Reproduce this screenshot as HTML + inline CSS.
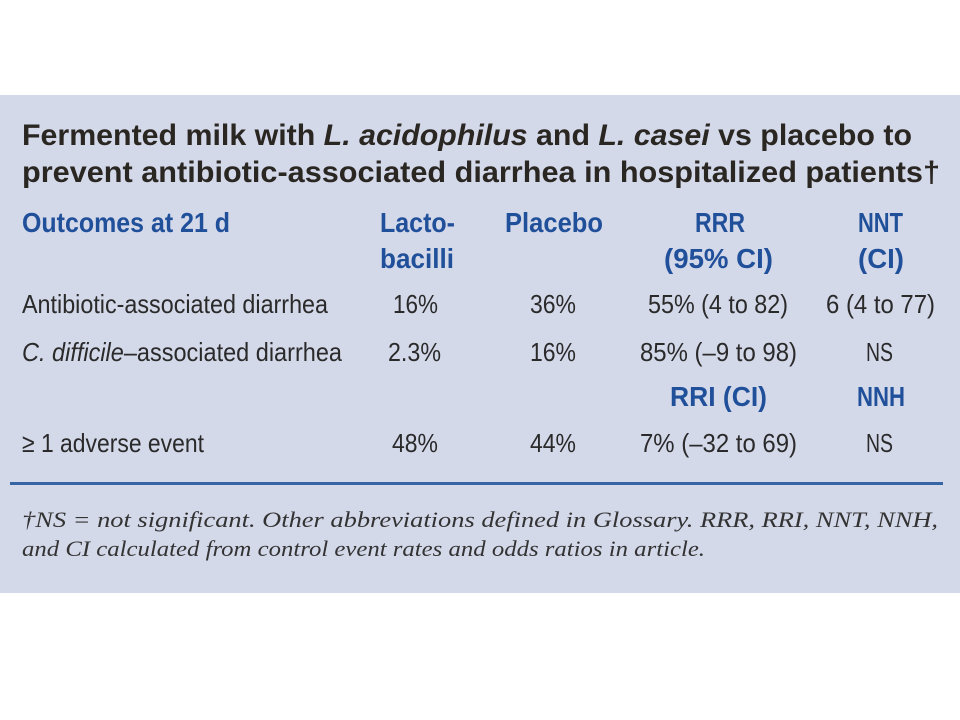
<!DOCTYPE html>
<html><head><meta charset="utf-8"><style>
html,body{margin:0;padding:0;background:#fff;width:960px;height:720px;overflow:hidden}
svg{display:block}
.t{font-family:"Liberation Sans",sans-serif;font-weight:bold;font-size:30px;fill:#2a2622}
.h{font-family:"Liberation Sans",sans-serif;font-weight:bold;font-size:28px;fill:#21509a}
.b{font-family:"Liberation Sans",sans-serif;font-size:26px;fill:#2a2a2a}
.f{font-family:"Liberation Serif",serif;font-style:italic;font-size:22px;fill:#333}
</style></head><body>
<svg width="960" height="720" xmlns="http://www.w3.org/2000/svg">
<rect x="0" y="95" width="960" height="498" fill="#d4d9ea"/>
<text class="t" x="22" y="145" textLength="890" lengthAdjust="spacingAndGlyphs">Fermented milk with <tspan font-style="italic">L. acidophilus</tspan> and <tspan font-style="italic">L. casei</tspan> vs placebo to</text>
<text class="t" x="22" y="182" textLength="918" lengthAdjust="spacingAndGlyphs">prevent antibiotic-associated diarrhea in hospitalized patients†</text>

<text class="h" x="22" y="232" textLength="208" lengthAdjust="spacingAndGlyphs">Outcomes at 21 d</text>
<text class="h" x="380" y="232" textLength="75" lengthAdjust="spacingAndGlyphs">Lacto-</text>
<text class="h" x="505" y="232" textLength="98" lengthAdjust="spacingAndGlyphs">Placebo</text>
<text class="h" x="695" y="232" textLength="50" lengthAdjust="spacingAndGlyphs">RRR</text>
<text class="h" x="858" y="232" textLength="45" lengthAdjust="spacingAndGlyphs">NNT</text>
<text class="h" x="380" y="268" textLength="74" lengthAdjust="spacingAndGlyphs">bacilli</text>
<text class="h" x="664" y="268" textLength="109" lengthAdjust="spacingAndGlyphs">(95% CI)</text>
<text class="h" x="858" y="268" textLength="46" lengthAdjust="spacingAndGlyphs">(CI)</text>

<text class="b" x="22" y="313" textLength="306" lengthAdjust="spacingAndGlyphs">Antibiotic-associated diarrhea</text>
<text class="b" x="393" y="313" textLength="45" lengthAdjust="spacingAndGlyphs">16%</text>
<text class="b" x="530" y="313" textLength="46" lengthAdjust="spacingAndGlyphs">36%</text>
<text class="b" x="648" y="313" textLength="140" lengthAdjust="spacingAndGlyphs">55% (4 to 82)</text>
<text class="b" x="826" y="313" textLength="109" lengthAdjust="spacingAndGlyphs">6 (4 to 77)</text>

<text class="b" x="22" y="361" textLength="320" lengthAdjust="spacingAndGlyphs"><tspan font-style="italic">C. difficile</tspan>–associated diarrhea</text>
<text class="b" x="388" y="361" textLength="53" lengthAdjust="spacingAndGlyphs">2.3%</text>
<text class="b" x="530" y="361" textLength="46" lengthAdjust="spacingAndGlyphs">16%</text>
<text class="b" x="640" y="361" textLength="157" lengthAdjust="spacingAndGlyphs">85% (–9 to 98)</text>
<text class="b" x="866" y="361" textLength="27" lengthAdjust="spacingAndGlyphs">NS</text>

<text class="h" x="670" y="406" textLength="97" lengthAdjust="spacingAndGlyphs">RRI (CI)</text>
<text class="h" x="857" y="406" textLength="48" lengthAdjust="spacingAndGlyphs">NNH</text>

<text class="b" x="22" y="452" textLength="182" lengthAdjust="spacingAndGlyphs">≥ 1 adverse event</text>
<text class="b" x="392" y="452" textLength="46" lengthAdjust="spacingAndGlyphs">48%</text>
<text class="b" x="530" y="452" textLength="46" lengthAdjust="spacingAndGlyphs">44%</text>
<text class="b" x="640" y="452" textLength="157" lengthAdjust="spacingAndGlyphs">7% (–32 to 69)</text>
<text class="b" x="866" y="452" textLength="27" lengthAdjust="spacingAndGlyphs">NS</text>

<rect x="10" y="482" width="933" height="3" fill="#3565a5"/>
<text class="f" x="22" y="527" textLength="916" lengthAdjust="spacingAndGlyphs">†NS = not significant. Other abbreviations defined in Glossary. RRR, RRI, NNT, NNH,</text>
<text class="f" x="22" y="556" textLength="683" lengthAdjust="spacingAndGlyphs">and CI calculated from control event rates and odds ratios in article.</text>
</svg>
</body></html>
